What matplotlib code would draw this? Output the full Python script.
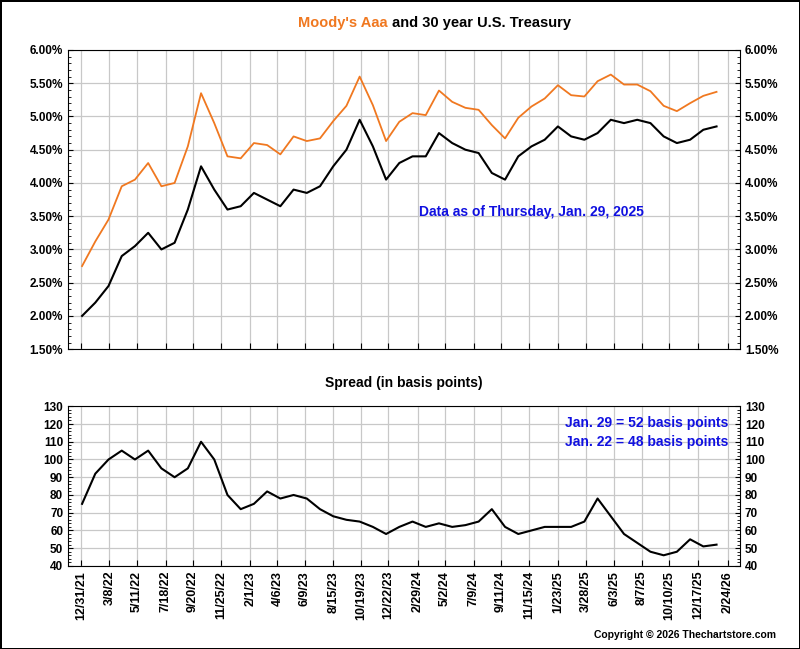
import numpy as np
import pandas as pd
import matplotlib
matplotlib.use('Agg')
import matplotlib.pyplot as plt
from matplotlib.ticker import FuncFormatter, MultipleLocator

plt.rcParams['font.family'] = ['Liberation Sans', 'DejaVu Sans']

# monthly readings, Jan 2022 .. Jan 2026
months = pd.date_range('2022-01-03', '2026-01-29', periods=49)
ust30 = [2.00, 2.20, 2.45, 2.90, 3.05, 3.25, 3.00, 3.10, 3.60, 4.25, 3.90, 3.60,
         3.65, 3.85, 3.75, 3.65, 3.90, 3.85, 3.95, 4.25, 4.50, 4.95, 4.55, 4.05,
         4.30, 4.40, 4.40, 4.75, 4.60, 4.50, 4.45, 4.15, 4.05, 4.40, 4.55, 4.65,
         4.85, 4.70, 4.65, 4.75, 4.95, 4.90, 4.95, 4.90, 4.70, 4.60, 4.65, 4.80, 4.85]
spread = [75, 92, 100, 105, 100, 105, 95, 90, 95, 110, 100, 80,
          72, 75, 82, 78, 80, 78, 72, 68, 66, 65, 62, 58,
          62, 65, 62, 64, 62, 63, 65, 72, 62, 58, 60, 62,
          62, 62, 65, 78, 68, 58, 53, 48, 46, 48, 55, 51, 52]
aaa = [u + s / 100 for u, s in zip(ust30, spread)]

tick_labels = ['12/31/21', '3/8/22', '5/11/22', '7/18/22', '9/20/22', '11/25/22', '2/1/23',
               '4/6/23', '6/9/23', '8/15/23', '10/19/23', '12/22/23', '2/29/24', '5/2/24',
               '7/9/24', '9/11/24', '11/15/24', '1/23/25', '3/28/25', '6/3/25', '8/7/25',
               '10/10/25', '12/17/25', '2/24/26']
tick_dates = pd.to_datetime(tick_labels, format='%m/%d/%y')

orange = '#F07820'
fig = plt.figure(figsize=(8, 6.49), dpi=100)
fig.patch.set_edgecolor('black')
fig.patch.set_linewidth(2)

ax1 = fig.add_axes([0.085, 0.462, 0.84, 0.461])
ax2 = fig.add_axes([0.085, 0.128, 0.84, 0.246])

xlim = (pd.Timestamp('2021-12-01'), pd.Timestamp('2026-03-25'))
for ax in (ax1, ax2):
    ax.set_xlim(xlim)
    ax.set_xticks(tick_dates)
    ax.grid(True, color='#c8c8c8', linewidth=0.9)
    ax.set_axisbelow(True)
    ax.tick_params(axis='y', which='both', right=True, labelright=True, labelsize=8.5, direction='in')
    ax.tick_params(axis='x', direction='in', length=4)

ax1.plot(months, aaa, color=orange, linewidth=1.3)
ax1.plot(months, ust30, color='black', linewidth=1.5)
ax1.set_ylim(1.5, 6.0)
ax1.yaxis.set_major_locator(MultipleLocator(0.5))
ax1.yaxis.set_minor_locator(MultipleLocator(0.1))
ax1.yaxis.set_major_formatter(FuncFormatter(lambda v, p: f'{v:.2f}%'))
ax1.set_xticklabels([])
for lab in ax1.get_yticklabels() + ax1.get_yticklabels(which='major'):
    lab.set_fontweight('bold')
for lab in ax1.yaxis.get_ticklabels(which='both'):
    lab.set_fontweight('bold')
ax1.text(0.69, 0.445, 'Data as of Thursday, Jan. 29, 2025', transform=ax1.transAxes,
         color='#1010e0', fontsize=10, fontweight='bold', ha='center')

fig.text(0.485, 0.958, "Moody's Aaa", color=orange, fontsize=10.5, fontweight='bold', ha='right')
fig.text(0.485, 0.958, " and 30 year U.S. Treasury", color='black', fontsize=10.5, fontweight='bold', ha='left')

ax2.plot(months, spread, color='black', linewidth=1.5)
ax2.set_ylim(40, 130)
ax2.yaxis.set_major_locator(MultipleLocator(10))
ax2.yaxis.set_minor_locator(MultipleLocator(2))
ax2.set_xticklabels(tick_labels, rotation=90, fontsize=9, fontweight='bold')
for lab in ax2.yaxis.get_ticklabels(which='both'):
    lab.set_fontweight('bold')
ax2.set_title('Spread (in basis points)', fontsize=10, fontweight='bold', pad=14)
ax2.text(0.74, 0.87, 'Jan. 29 = 52 basis points', transform=ax2.transAxes,
         color='#1010e0', fontsize=10, fontweight='bold')
ax2.text(0.74, 0.75, 'Jan. 22 = 48 basis points', transform=ax2.transAxes,
         color='#1010e0', fontsize=10, fontweight='bold')

fig.text(0.97, 0.017, 'Copyright \u00a9 2026 Thechartstore.com', fontsize=7.5, fontweight='bold', ha='right')

fig.savefig('out.png', dpi=100, edgecolor=fig.get_edgecolor())
